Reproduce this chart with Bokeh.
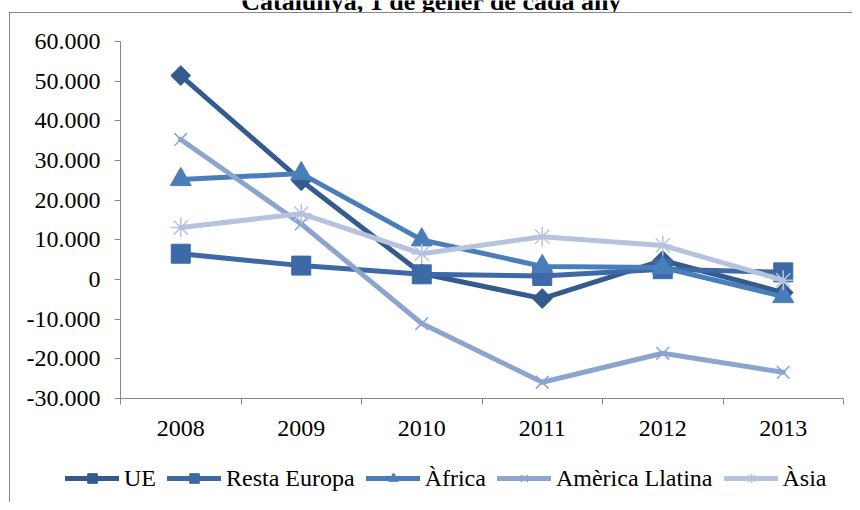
import math
from bokeh.plotting import figure
from bokeh.layouts import column
from bokeh.models import (Range1d, LinearAxis, FixedTicker, CustomJSTickFormatter,
                          Legend, LegendItem, Label)
from bokeh.embed import file_html
from bokeh.resources import INLINE

years = ["2008", "2009", "2010", "2011", "2012", "2013"]
ue = [51400, 24900, 1500, -4800, 4800, -3300]
resta_europa = [6500, 3500, 1300, 900, 2600, 1800]
africa = [25200, 26700, 10000, 3300, 3000, -4300]
america_llatina = [35300, 14000, -11100, -25900, -18600, -23400]
asia = [13100, 16600, 6500, 10800, 8600, -200]
y_ticks = [-30000, -20000, -10000, 0, 10000, 20000, 30000, 40000, 50000, 60000]

title_text = "Catalunya, 1 de gener de cada any"
FONT = "Liberation Serif"
GRAY = "#868686"
W = 852

xpos = [i + 0.5 for i in range(len(years))]

series = [
    ("UE", ue, "#335b8e", dict(marker="square", size=14, angle=math.pi / 4)),
    ("Resta Europa", resta_europa, "#3d6aa6", dict(marker="square", size=19)),
    ("Àfrica", africa, "#4a7ebb", dict(marker="triangle", size=21)),
    ("Amèrica Llatina", america_llatina, "#8ca5cf", dict(marker="x", size=18, line_width=1.5)),
    ("Àsia", asia, "#b7c3de", dict(marker="asterisk", size=20, line_width=1.5)),
]


def bare_figure(height):
    f = figure(width=W, height=height, output_backend="svg", toolbar_location=None,
               x_axis_location=None, y_axis_location=None,
               x_range=Range1d(0, 1), y_range=Range1d(0, 1), min_border=0)
    f.outline_line_color = None
    f.background_fill_color = None
    f.border_fill_color = None
    f.xgrid.visible = False
    f.ygrid.visible = False
    return f


# ---- title strip (the title is cut off at the top, as in the reference) ----
pt = bare_figure(12)
pt.add_layout(Label(x=311, y=11, x_units="screen", y_units="screen", text=title_text,
                    text_align="center", text_baseline="alphabetic",
                    text_font=FONT, text_font_size="26px", text_font_style="bold",
                    text_color="black"))

# ---- main chart ----
p = figure(width=W, height=448, output_backend="svg", toolbar_location=None,
           x_range=Range1d(0, len(years)), y_range=Range1d(-30000, 60000),
           x_axis_type=None, y_axis_type=None,
           min_border_left=120, min_border_right=9, min_border_top=29,
           min_border_bottom=62)
p.outline_line_color = None
p.background_fill_color = "white"
p.border_fill_color = None

yax = LinearAxis(ticker=FixedTicker(ticks=y_ticks, minor_ticks=[]))
yax.formatter = CustomJSTickFormatter(
    code='return tick.toFixed(0).replace(/\\B(?=(\\d{3})+(?!\\d))/g, ".");')
yax.axis_line_color = GRAY
yax.major_tick_line_color = GRAY
yax.major_tick_out = 6
yax.major_tick_in = 0
yax.minor_tick_line_color = None
yax.major_label_standoff = 14
yax.major_label_text_font = FONT
yax.major_label_text_font_size = "24px"
yax.major_label_text_color = "black"
p.add_layout(yax, "left")

xax = LinearAxis(ticker=FixedTicker(ticks=xpos, minor_ticks=list(range(len(years) + 1))))
xax.formatter = CustomJSTickFormatter(args=dict(years=years),
                                      code="return years[Math.floor(tick)];")
xax.axis_line_color = GRAY
xax.major_tick_line_color = None
xax.minor_tick_line_color = GRAY
xax.minor_tick_out = 6
xax.minor_tick_in = 0
xax.major_label_standoff = 16
xax.major_label_text_font = FONT
xax.major_label_text_font_size = "24px"
xax.major_label_text_color = "black"
p.add_layout(xax, "below")

p.ygrid.ticker = FixedTicker(ticks=y_ticks)
p.ygrid.grid_line_color = GRAY
p.ygrid.grid_line_width = 1
p.xgrid.visible = False

# ---- legend strip ----
pl = bare_figure(42)
try:
    pl.frame_align = False   # keep the strip's frame across the full width
    leg_x = 65
except AttributeError:
    leg_x = -55

items = []
for name, vals, color, mk in series:
    mk = dict(mk)
    lw = mk.pop("line_width", 1)
    p.line(xpos, vals, line_color=color, line_width=5, line_join="round", line_cap="round")
    p.scatter(xpos, vals, fill_color=color, line_color=color, line_width=lw, **mk)
    # legend keys: one point placed outside the strip's view, only the look is used
    lr = pl.line(x=[-5, -4], y=[-5, -5], line_color=color, line_width=5, line_cap="round")
    sr = pl.scatter(x=[-5], y=[-5], fill_color=color, line_color=color, line_width=lw, **mk)
    items.append(LegendItem(label=name, renderers=[lr, sr]))

legend = Legend(items=items, orientation="horizontal", location=(leg_x, 10.5),
                glyph_width=54, glyph_height=24, label_standoff=5, spacing=11,
                padding=0, margin=0, border_line_color=None,
                background_fill_alpha=0,
                label_text_font=FONT, label_text_font_size="24px",
                label_text_color="black")
pl.add_layout(legend, "center")

layout = column(pt, p, pl, spacing=0)
layout.styles = {
    "background-color": "white",
    "background-image": "linear-gradient(#868686, #868686), linear-gradient(#868686, #868686)",
    "background-size": "1px 100%, 100% 1px",
    "background-position": "9px 12px, 9px 12px",
    "background-repeat": "no-repeat",
}

open("out.html", "w").write(file_html(layout, INLINE))
